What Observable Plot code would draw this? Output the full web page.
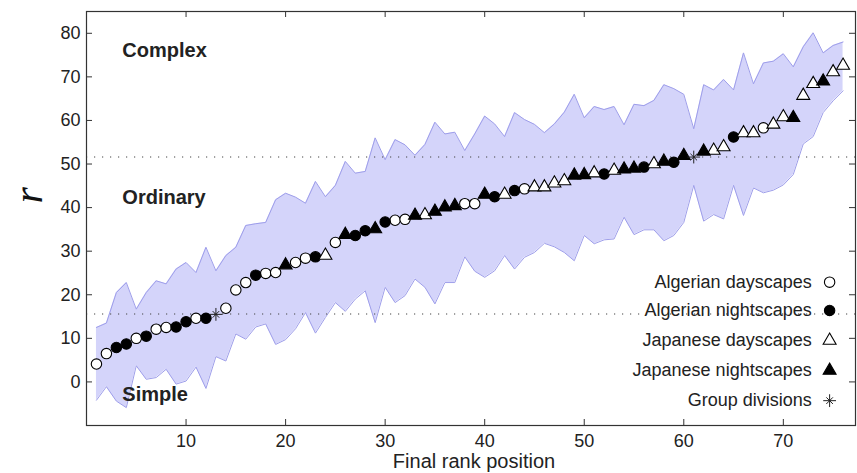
<!DOCTYPE html>
<html><head><meta charset="utf-8">
<script src="https://cdn.jsdelivr.net/npm/d3@7"></script>
<script src="https://cdn.jsdelivr.net/npm/@observablehq/plot@0.6"></script>
<style>
html,body{margin:0;padding:0;background:#fff;}
#chart svg{display:block;}
</style></head><body><div id="chart"></div>
<script>
// r value of each image, in final rank order (rank = position + 1)
const rValues = [4.1, 6.5, 7.9, 8.7, 10.0, 10.5, 12.1, 12.5, 12.6, 13.8,
  14.6, 14.6, 15.5, 16.9, 21.1, 22.8, 24.5, 24.9, 25.1, 26.8,
  27.4, 28.4, 28.7, 29.0, 32.0, 33.8, 33.6, 34.7, 35.1, 36.7,
  37.1, 37.3, 38.2, 38.3, 39.1, 40.1, 40.4, 40.9, 40.9, 43.0,
  42.5, 43.0, 43.9, 44.3, 44.7, 44.7, 45.6, 46.1, 47.4, 47.5,
  47.9, 47.7, 48.5, 48.8, 49.0, 49.3, 50.0, 50.6, 50.4, 51.9,
  51.6, 52.9, 53.1, 53.9, 56.2, 57.1, 57.1, 58.3, 59.1, 60.8,
  60.6, 65.7, 68.4, 69.0, 71.1, 72.6];
// AD Algerian dayscapes, AN Algerian nightscapes, JD Japanese dayscapes, JN Japanese nightscapes, G group division
const groupCodes = ["AD","AD","AN","AN","AD","AN","AD","AD","AN","AN",
  "AD","AN","G","AD","AD","AD","AN","AD","AD","JN",
  "AD","AD","AN","JD","AD","JN","AN","AN","JN","AN",
  "AD","AD","JN","JD","JN","JN","JN","AD","AD","JN",
  "AN","JD","AN","AD","JD","JD","JD","JD","JN","JN",
  "JD","AN","JD","JN","JN","AN","JD","JN","AN","JN",
  "G","JN","JD","JD","AN","JD","JD","AD","JD","JD",
  "JN","JD","JD","JN","JD","JD"];
const bandUpper = [12.5, 13.5, 20.5, 22.8, 16.7, 20.5, 23.2, 22.5, 25.9, 27.4,
  25.1, 30.9, 25.5, 29.0, 30.9, 35.9, 36.3, 36.6, 41.8, 43.3,
  42.4, 41.0, 46.0, 42.5, 45.1, 50.6, 47.9, 48.3, 56.0, 51.0,
  55.6, 54.4, 52.0, 54.5, 59.6, 56.9, 57.3, 53.1, 56.9, 61.0,
  59.2, 56.3, 61.8, 60.2, 59.1, 57.2, 59.2, 61.9, 66.0, 60.6,
  63.2, 62.5, 63.2, 59.0, 63.7, 63.4, 64.6, 68.2, 67.3, 66.0,
  58.1, 68.2, 67.0, 69.4, 67.0, 75.5, 68.4, 73.2, 73.6, 75.3,
  72.3, 76.9, 80.1, 75.5, 77.2, 78.0];
const bandLower = [-4.2, -1.1, -4.4, -5.9, 3.7, 0.6, 1.0, 2.9, -0.5, 0.2,
  3.4, -1.5, 5.8, 4.8, 11.0, 9.8, 12.6, 13.3, 8.6, 9.7,
  12.2, 15.9, 11.2, 14.8, 18.2, 16.2, 19.0, 20.9, 13.6, 21.7,
  18.2, 19.8, 23.6, 21.7, 17.9, 22.8, 22.8, 28.7, 25.4, 24.0,
  25.5, 29.0, 25.9, 28.6, 29.7, 31.8, 31.0, 29.7, 27.8, 33.6,
  31.7, 32.6, 32.8, 37.8, 33.8, 34.9, 34.9, 32.4, 33.6, 36.6,
  45.1, 36.9, 38.4, 37.4, 45.1, 38.2, 44.5, 43.4, 44.0, 45.2,
  47.6, 54.6, 56.3, 61.8, 64.5, 66.8];
const divisionLevels = [15.6, 51.6];
const xTicks = [10, 20, 30, 40, 50, 60, 70];
const yTicks = [0, 10, 20, 30, 40, 50, 60, 70, 80];
const regionLabels = ["Complex", "Ordinary", "Simple"];
const regionLevels = [76, 42.2, -2.8];
const legendLabels = ["Algerian dayscapes", "Algerian nightscapes", "Japanese dayscapes", "Japanese nightscapes", "Group divisions"];
const legendCodes = ["AD", "AN", "JD", "JN", "G"];

// ---- build tables ----
const points = rValues.map((v, i) => ({rank: i + 1, r: v, g: groupCodes[i]}));
const band = bandUpper.map((u, i) => ({rank: i + 1, hi: u, lo: bandLower[i]}));

const W = 857, H = 473;
const mL = 86, mR = 2, mT = 11, mB = 48;
const innerH = H - mT - mB;
const tickLen = 6;
const xDomain = [0, 77.25], yDomain = [-10, 85];

const legendSymX = 74.65, legendTextX = 72.85;
const legendRowY = [22.9, 16.4, 9.5, 2.6, -4.3];
const legend = legendLabels.map((t, i) => ({t, g: legendCodes[i], y: legendRowY[i]}));

const style = {
  AD: {symbol: "circle", fill: "white", r: 5.2},
  AN: {symbol: "circle", fill: "black", r: 5.2},
  JD: {symbol: "triangle", fill: "white", r: 4.8},
  JN: {symbol: "triangle", fill: "black", r: 4.8}
};

function markerMarks(data, xAcc, yAcc) {
  const marks = [];
  for (const code of ["AD", "AN", "JD", "JN"]) {
    const s = style[code];
    marks.push(Plot.dot(data.filter(d => d.g === code), {
      x: xAcc, y: yAcc, symbol: s.symbol, r: s.r, fill: s.fill,
      stroke: "black", strokeWidth: 1.1
    }));
  }
  const gd = data.filter(d => d.g === "G");
  marks.push(Plot.dot(gd, {x: xAcc, y: yAcc, symbol: "plus", r: 4.2, stroke: "#222", strokeWidth: 1}));
  marks.push(Plot.dot(gd, {x: xAcc, y: yAcc, symbol: "times", r: 3.1, stroke: "#222", strokeWidth: 1}));
  return marks;
}

const chart = Plot.plot({
  width: W, height: H,
  marginLeft: mL, marginRight: mR, marginTop: mT, marginBottom: mB,
  style: {fontFamily: "'Liberation Sans', Arial, Helvetica, sans-serif", fontSize: "18px", color: "#222", background: "white"},
  x: {domain: xDomain},
  y: {domain: yDomain},
  marks: [
    Plot.areaY(band, {x: "rank", y1: "lo", y2: "hi", fill: "#d4d4fa"}),
    Plot.lineY(band, {x: "rank", y: "hi", stroke: "#9e9eea", strokeWidth: 1}),
    Plot.lineY(band, {x: "rank", y: "lo", stroke: "#9e9eea", strokeWidth: 1}),
    Plot.ruleY(divisionLevels, {stroke: "#444", strokeWidth: 1.1, strokeDasharray: "1.2,6.8"}),
    ...markerMarks(points, "rank", "r"),
    // inward ticks (MATLAB style) on all four sides
    Plot.tickX(xTicks, {x: d => d, insetTop: innerH - tickLen, stroke: "#333"}),
    Plot.tickX(xTicks, {x: d => d, insetBottom: innerH - tickLen, stroke: "#333"}),
    Plot.tickY(yTicks, {y: d => d, insetRight: (W - mL - mR) - tickLen, stroke: "#333"}),
    Plot.tickY(yTicks, {y: d => d, insetLeft: (W - mL - mR) - tickLen, stroke: "#333"}),
    Plot.axisX({ticks: xTicks, tickSize: 0, tickPadding: 9, label: null, fontSize: 18}),
    Plot.axisY({ticks: yTicks, tickSize: 0, tickPadding: 6, label: null, fontSize: 18}),
    Plot.frame({stroke: "#333", strokeWidth: 1.2}),
    Plot.text(regionLabels, {x: () => 3.6, y: (d, i) => regionLevels[i], text: d => d, textAnchor: "start", fontWeight: "bold", fontSize: 20, fill: "#222"}),
    Plot.text(legend, {x: () => legendTextX, y: "y", text: "t", textAnchor: "end", fontSize: 18, fill: "#222"}),
    ...markerMarks(legend, () => legendSymX, "y"),
    Plot.text(["Final rank position"], {frameAnchor: "bottom", dx: 3, dy: 42, fontSize: 20, fill: "#222"}),
    Plot.text(["r"], {frameAnchor: "left", dx: -58, dy: -15, rotate: -90, fontFamily: "'Liberation Serif', 'DejaVu Serif', serif", fontStyle: "italic", fontSize: 42, fill: "#111"})
  ]
});
document.getElementById("chart").appendChild(chart);
</script>
</body></html>
